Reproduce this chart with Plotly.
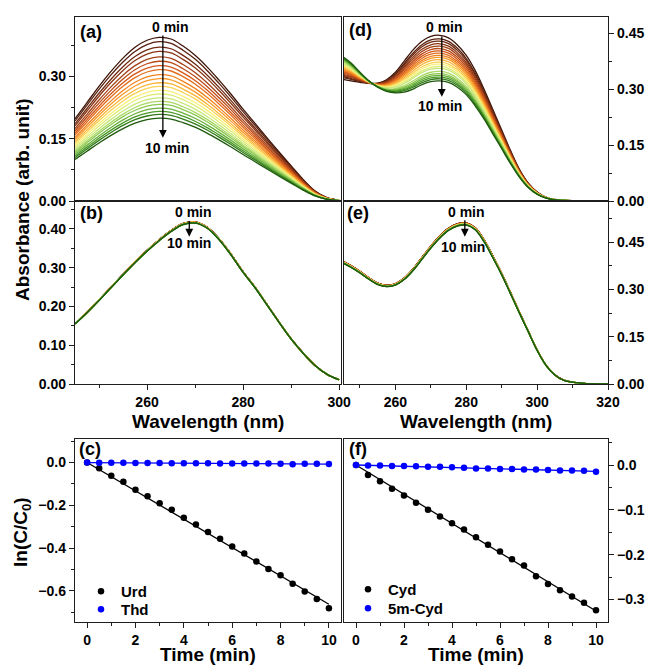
import numpy as np
import plotly.graph_objects as go

W, H = 648, 666

# ---------------- data ----------------
time_min = [0, 0.5, 1, 1.5, 2, 2.5, 3, 3.5, 4, 4.5, 5, 5.5, 6, 6.5, 7, 7.5, 8, 8.5, 9, 9.5, 10]

ln_urd = [0, -0.027, -0.062, -0.090, -0.127, -0.158, -0.190, -0.220, -0.258, -0.290, -0.325,
          -0.356, -0.392, -0.425, -0.462, -0.497, -0.527, -0.566, -0.603, -0.637, -0.681]
ln_thd = [0, -0.001, -0.001, -0.001, -0.002, -0.002, -0.002, -0.003, -0.003, -0.003, -0.003,
          -0.004, -0.004, -0.004, -0.005, -0.005, -0.006, -0.008, -0.006, -0.006, -0.007]
ln_cyd = [0, -0.022, -0.036, -0.053, -0.068, -0.084, -0.100, -0.115, -0.130, -0.144, -0.161,
          -0.178, -0.193, -0.210, -0.224, -0.248, -0.265, -0.279, -0.293, -0.307, -0.324]
ln_5mcyd = [0, -0.001, -0.001, -0.002, -0.002, -0.003, -0.004, -0.004, -0.005, -0.006, -0.008,
            -0.008, -0.009, -0.009, -0.010, -0.010, -0.011, -0.012, -0.012, -0.013, -0.015]

# wavelengths (nm)
wl_left = [245, 247.5, 250, 252.5, 255, 257.5, 260, 262.5, 265, 267.5, 270, 272.5, 275,
           277.5, 280, 282.5, 285, 287.5, 290, 292.5, 295, 297.5, 300]
wl_right = [245, 247.5, 250, 252.5, 255, 257.5, 260, 262.5, 265, 267.5, 270, 272.5, 275,
            277.5, 280, 282.5, 285, 287.5, 290, 292.5, 295, 297.5, 300, 302.5, 305,
            307.5, 310, 312.5, 315, 317.5, 320]

# (a) Urd, 0 min spectrum
urd_0min = [0.198, 0.237, 0.276, 0.312, 0.344, 0.370, 0.387, 0.394, 0.390, 0.373, 0.351, 0.323,
            0.291, 0.257, 0.221, 0.187, 0.152, 0.118, 0.085, 0.052, 0.024, 0.008, 0.002]
# (b) Thd, 0 min spectrum
thd_0min = [0.156, 0.185, 0.217, 0.250, 0.283, 0.315, 0.345, 0.372, 0.396, 0.414, 0.418, 0.405,
            0.375, 0.335, 0.290, 0.250, 0.205, 0.160, 0.117, 0.080, 0.048, 0.025, 0.011]
# (d) Cyd, 0 min and 10 min spectra
cyd_0min = [0.326, 0.322, 0.318, 0.315, 0.316, 0.325, 0.345, 0.375, 0.405, 0.428, 0.441, 0.444,
            0.437, 0.418, 0.390, 0.350, 0.300, 0.245, 0.190, 0.135, 0.085, 0.048, 0.024, 0.010,
            0.004, 0.002, 0.001, 0.0005, 0.0, 0.0, 0.0]
cyd_10min = [0.388, 0.370, 0.345, 0.322, 0.305, 0.294, 0.290, 0.292, 0.300, 0.312, 0.320, 0.322,
             0.318, 0.305, 0.285, 0.255, 0.220, 0.180, 0.140, 0.100, 0.064, 0.036, 0.018, 0.008,
             0.003, 0.0015, 0.001, 0.0005, 0.0, 0.0, 0.0]
# (e) 5m-Cyd, 0 min spectrum
m5cyd_0min = [0.390, 0.375, 0.357, 0.337, 0.320, 0.313, 0.318, 0.336, 0.365, 0.401, 0.437, 0.469,
              0.494, 0.508, 0.511, 0.496, 0.458, 0.406, 0.351, 0.290, 0.228, 0.168, 0.108, 0.060,
              0.029, 0.012, 0.006, 0.003, 0.001, 0.0005, 0.0]

x_ticks_left = [260, 280, 300]
x_ticks_right = [260, 280, 300, 320]
time_ticks = [0, 2, 4, 6, 8, 10]

# ---------------- styling helpers ----------------
FONT = "Liberation Sans, Arial, sans-serif"
LINE_COL = "#1e1e1e"

stops = [(0.0, (61, 20, 8)), (0.15, (138, 53, 21)), (0.30, (212, 88, 26)), (0.42, (245, 138, 31)),
         (0.52, (251, 192, 64)), (0.60, (248, 240, 120)), (0.70, (200, 232, 122)),
         (0.80, (140, 200, 80)), (0.90, (74, 154, 40)), (1.0, (30, 90, 12))]


def cmap(f):
    for (p0, c0), (p1, c1) in zip(stops[:-1], stops[1:]):
        if p0 <= f <= p1:
            u = (f - p0) / (p1 - p0)
            c = [int(round(a + (b - a) * u)) for a, b in zip(c0, c1)]
            return "rgb(%d,%d,%d)" % tuple(c)
    return "rgb(%d,%d,%d)" % stops[-1][1]


def px(x):
    return x / W


def py(y):
    return (H - y) / H


fig = go.Figure()
n = len(time_min)

# (a) Urd spectra
for i in range(n):
    ratio = np.exp(ln_urd[i])
    fig.add_trace(go.Scatter(x=wl_left, y=[v * ratio for v in urd_0min], mode="lines",
                             line=dict(color=cmap(i / (n - 1)), width=1.3, shape="spline"),
                             xaxis="x", yaxis="y", showlegend=False, hoverinfo="skip"))
# (b) Thd spectra
for i in range(n):
    ratio = np.exp(ln_thd[i])
    fig.add_trace(go.Scatter(x=wl_left, y=[v * ratio for v in thd_0min], mode="lines",
                             line=dict(color=cmap(i / (n - 1)), width=1.3, shape="spline"),
                             xaxis="x2", yaxis="y2", showlegend=False, hoverinfo="skip"))
# (d) Cyd spectra
c_end = 1 - np.exp(ln_cyd[-1])
for i in range(n):
    f = (1 - np.exp(ln_cyd[i])) / c_end
    ys = [a + (b - a) * f for a, b in zip(cyd_0min, cyd_10min)]
    fig.add_trace(go.Scatter(x=wl_right, y=ys, mode="lines",
                             line=dict(color=cmap(i / (n - 1)), width=1.3, shape="spline"),
                             xaxis="x4", yaxis="y4", showlegend=False, hoverinfo="skip"))
# (e) 5m-Cyd spectra
for i in range(n):
    ratio = np.exp(ln_5mcyd[i])
    fig.add_trace(go.Scatter(x=wl_right, y=[v * ratio for v in m5cyd_0min], mode="lines",
                             line=dict(color=cmap(i / (n - 1)), width=1.3, shape="spline"),
                             xaxis="x5", yaxis="y5", showlegend=False, hoverinfo="skip"))

# (c), (f) kinetics
t = np.array(time_min)


def fit_line(vals):
    v = np.array(vals)
    k = float((t * v).sum() / (t * t).sum())
    return [0, 10], [0, k * 10]


for vals, col, name, xa, ya, leg in [(ln_urd, "black", "Urd", "x3", "y3", "legend"),
                                     (ln_thd, "#0000ff", "Thd", "x3", "y3", "legend2"),
                                     (ln_cyd, "black", "Cyd", "x6", "y6", "legend3"),
                                     (ln_5mcyd, "#0000ff", "5m-Cyd", "x6", "y6", "legend4")]:
    fx, fy = fit_line(vals)
    fig.add_trace(go.Scatter(x=fx, y=fy, mode="lines", line=dict(color=col, width=1.3),
                             xaxis=xa, yaxis=ya, showlegend=False, hoverinfo="skip"))
    fig.add_trace(go.Scatter(x=time_min, y=vals, mode="markers", name=name,
                             marker=dict(color=col, size=6.5), xaxis=xa, yaxis=ya,
                             legend=leg, showlegend=True))

# ---------------- axes ----------------
XL = [px(75), px(341)]
XR = [px(344), px(608)]
ROW1 = [py(201), py(17)]
ROW2 = [py(384), py(201)]
ROW3 = [py(622), py(439)]

tickfont = dict(family=FONT, size=14, color="black", weight="bold")


def ax(domain, rng, anchor, side=None, tickvals=None, minor_vals=None, showlabels=True,
       fmt=None, ticks="outside"):
    d = dict(domain=domain, range=rng, anchor=anchor, showline=True, mirror=True,
             linecolor=LINE_COL, linewidth=1.4, showgrid=False, zeroline=False,
             ticks=ticks if showlabels else "", ticklen=5, tickwidth=1.3, tickcolor=LINE_COL,
             tickfont=tickfont, showticklabels=showlabels, automargin=False, fixedrange=True)
    if side:
        d["side"] = side
    if tickvals is not None:
        d["tickvals"] = tickvals
    if fmt:
        d["tickformat"] = fmt
    if minor_vals is not None and showlabels:
        d["minor"] = dict(tickvals=minor_vals, ticks="outside", ticklen=3, tickwidth=1.2,
                          tickcolor=LINE_COL, showgrid=False)
    return d


fig.update_layout(
    xaxis=ax(XL, [245, 300.4], "y", tickvals=x_ticks_left, showlabels=False),
    yaxis=ax(ROW1, [0, 0.443], "x", side="left", tickvals=[0, 0.15, 0.30],
             minor_vals=[0.075, 0.225, 0.375], fmt=".2f"),
    xaxis2=ax(XL, [245, 300.4], "y2", tickvals=x_ticks_left, minor_vals=[250, 270, 290]),
    yaxis2=ax(ROW2, [0, 0.472], "x2", side="left", tickvals=[0, 0.1, 0.2, 0.3, 0.4],
              minor_vals=[0.05, 0.15, 0.25, 0.35, 0.45], fmt=".2f"),
    xaxis3=ax(XL, [-0.5, 10.5], "y3", tickvals=time_ticks, minor_vals=[1, 3, 5, 7, 9]),
    yaxis3=ax(ROW3, [-0.745, 0.11], "x3", side="left", tickvals=[0, -0.2, -0.4, -0.6],
              minor_vals=[0.1, -0.1, -0.3, -0.5, -0.7], fmt=".1f"),
    xaxis4=ax(XR, [245.5, 320], "y4", tickvals=x_ticks_right, showlabels=False),
    yaxis4=ax(ROW1, [0, 0.493], "x4", side="right", tickvals=[0, 0.15, 0.30, 0.45],
              minor_vals=[0.075, 0.225, 0.375], fmt=".2f"),
    xaxis5=ax(XR, [245.5, 320], "y5", tickvals=x_ticks_right, minor_vals=[250, 270, 290, 310]),
    yaxis5=ax(ROW2, [0, 0.58], "x5", side="right", tickvals=[0, 0.15, 0.30, 0.45],
              minor_vals=[0.075, 0.225, 0.375, 0.525], fmt=".2f"),
    xaxis6=ax(XR, [-0.5, 10.5], "y6", tickvals=time_ticks, minor_vals=[1, 3, 5, 7, 9]),
    yaxis6=ax(ROW3, [-0.35, 0.058], "x6", side="right", tickvals=[0, -0.1, -0.2, -0.3],
              minor_vals=[0.05, -0.05, -0.15, -0.25], fmt=".1f"),
)

legend_style = dict(bgcolor="rgba(0,0,0,0)", borderwidth=0, xanchor="left", yanchor="top",
                    font=dict(family=FONT, size=15, color="black", weight="bold"),
                    itemsizing="trace", tracegroupgap=0, itemwidth=30)
fig.update_layout(
    legend=dict(x=px(81), y=py(575), **legend_style),
    legend2=dict(x=px(81), y=py(593), **legend_style),
    legend3=dict(x=px(348), y=py(573), **legend_style),
    legend4=dict(x=px(348), y=py(592), **legend_style),
)

# ---------------- annotations ----------------
ann = []


def text_paper(x, y, s, size, angle=0, yanchor="middle"):
    ann.append(dict(x=px(x), y=py(y), xref="paper", yref="paper", text=s, showarrow=False,
                    xanchor="center", yanchor=yanchor, textangle=angle,
                    font=dict(family=FONT, size=size, color="black", weight="bold")))


for s, x, y in [("(a)", 91, 32), ("(b)", 91, 213), ("(c)", 90, 449),
                ("(d)", 360, 30), ("(e)", 358, 213), ("(f)", 358, 449)]:
    text_paper(x, y, s, 18)

text_paper(22, 200, "Absorbance (arb. unit)", 19, -90)
text_paper(22, 532, "ln(C/C<sub>0</sub>)", 19, -90)
text_paper(208, 421, "Wavelength (nm)", 19)
text_paper(476, 421, "Wavelength (nm)", 19)
text_paper(208, 667, "Time (min)", 19, yanchor="bottom")
text_paper(476, 667, "Time (min)", 19, yanchor="bottom")


def data_text(xa, ya, x, y, s):
    ann.append(dict(x=x, y=y, xref=xa, yref=ya, text=s, showarrow=False, xanchor="center",
                    yanchor="middle", font=dict(family=FONT, size=14, color="black", weight="bold")))


def data_arrow(xa, ya, x, y0, y1):
    ann.append(dict(x=x, y=y1, ax=x, ay=y0, xref=xa, yref=ya, axref=xa, ayref=ya, text="",
                    showarrow=True, arrowhead=2, arrowsize=1.2, arrowwidth=1.3,
                    arrowcolor="black"))


# (a)
data_text("x", "y", 264.8, 0.419, "0 min")
data_text("x", "y", 264.2, 0.128, "10 min")
data_arrow("x", "y", 263.3, 0.402, 0.152)
# (b)
data_text("x2", "y2", 269.6, 0.444, "0 min")
data_text("x2", "y2", 268.8, 0.364, "10 min")
data_arrow("x2", "y2", 268.8, 0.424, 0.380)
# (d)
data_text("x4", "y4", 274.0, 0.466, "0 min")
data_text("x4", "y4", 272.5, 0.254, "10 min")
data_arrow("x4", "y4", 273.1, 0.445, 0.279)
# (e)
data_text("x5", "y5", 280.1, 0.546, "0 min")
data_text("x5", "y5", 279.0, 0.433, "10 min")
data_arrow("x5", "y5", 279.6, 0.524, 0.467)

fig.update_layout(annotations=ann, width=W, height=H,
                  margin=dict(l=0, r=0, t=0, b=0, pad=0),
                  paper_bgcolor="white", plot_bgcolor="white")

fig.write_html("out.html")
